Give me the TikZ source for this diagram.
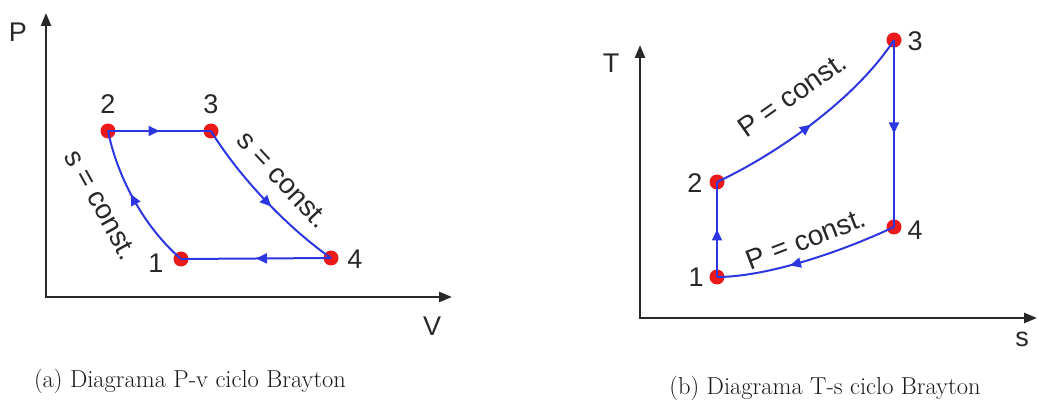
\documentclass[tikz,border=0pt]{standalone}
\usepackage{fontspec}
\setmainfont{Latin Modern Roman}
\newfontfamily\labfont{Liberation Sans}
\usetikzlibrary{arrows.meta,decorations.markings}
\definecolor{lineblue}{RGB}{45,55,225}
\definecolor{dotred}{RGB}{235,25,25}
\definecolor{axisgray}{RGB}{40,40,40}
\tikzset{
  axisline/.style={draw=axisgray,line width=2.4pt,-{Triangle[length=13pt,width=10pt]}},
  dot/.style={circle,fill=dotred,inner sep=0pt,minimum size=15pt},
  cyc/.style={draw=lineblue,line width=2pt,postaction={decorate},
    decoration={markings,mark=at position #1 with {\arrow{Triangle[length=11pt,width=10pt]}}}},
  cyc/.default=0.5,
  lab/.style={font=\labfont\fontsize{27}{29}\selectfont,text=axisgray,inner sep=1pt},
  clab/.style={font=\labfont\fontsize{28}{30}\selectfont,text=axisgray,inner sep=1pt},
  captext/.style={font=\fontsize{24.5}{27}\selectfont,text=black!90,inner sep=0pt}
}
\begin{document}
\begin{tikzpicture}[x=1pt,y=-1pt]
\useasboundingbox (0,0) rectangle (1039,403);
% ---------- (a) P-v ----------
\coordinate (aY) at (46,13);
\coordinate (aX) at (452,297);
\coordinate (aO1) at (46,298.2);
\coordinate (aO2) at (44.8,297);
\draw[axisline] (aO1) -- (aY);
\draw[axisline] (aO2) -- (aX);
\node[lab] (aP) at (18,32) {P};
\node[lab] (aV) at (432,326) {V};
\node[dot] (a2) at (108,131) {};
\node[dot] (a3) at (211,131) {};
\node[dot] (a4) at (331,258) {};
\node[dot] (a1) at (181,259) {};
\draw[cyc] (a2.center) -- (a3.center);
\draw[cyc=0.55] (a3.center) .. controls (240,178) and (288,228) .. (a4.center);
\draw[cyc] (a4.center) -- (a1.center);
\draw[cyc=0.55] (a1.center) .. controls (142,225) and (117,175) .. (a2.center);
\node[lab] (a2l) at (108,104) {2};
\node[lab] (a3l) at (211,104) {3};
\node[lab] (a4l) at (355,259) {4};
\node[lab] (a1l) at (156,263) {1};
\node[clab,rotate=-61] (as1) at (101,205) {s = const.};
\node[clab,rotate=-47] (as2) at (283,180) {s = const.};
\node[captext] (acap) at (190,381) {(a) Diagrama P-v ciclo Brayton};
% ---------- (b) T-s ----------
\coordinate (bY) at (640,45);
\coordinate (bX) at (1037,318);
\coordinate (bO1) at (640,319.2);
\coordinate (bO2) at (638.8,318);
\draw[axisline] (bO1) -- (bY);
\draw[axisline] (bO2) -- (bX);
\node[lab] (bT) at (611,63) {T};
\node[lab] (bs) at (1022,339) {s};
\node[dot] (b3) at (894,40) {};
\node[dot] (b2) at (717,182) {};
\node[dot] (b4) at (894,227) {};
\node[dot] (b1) at (717,277) {};
\draw[cyc=0.48] (b2.center) .. controls (775,155) and (855,100) .. (b3.center);
\draw[cyc] (b3.center) -- (b4.center);
\draw[cyc=0.6] (b4.center) .. controls (832,256) and (762,277) .. (b1.center);
\draw[cyc] (b1.center) -- (b2.center);
\node[lab] (b3l) at (915,41) {3};
\node[lab] (b2l) at (695,183) {2};
\node[lab] (b4l) at (915,230) {4};
\node[lab] (b1l) at (696,277) {1};
\node[clab,rotate=35] (bp1) at (792,95) {P = const.};
\node[clab,rotate=21] (bp2) at (806,239) {P = const.};
\node[captext] (bcap) at (825,388) {(b) Diagrama T-s ciclo Brayton};
\end{tikzpicture}
\end{document}
